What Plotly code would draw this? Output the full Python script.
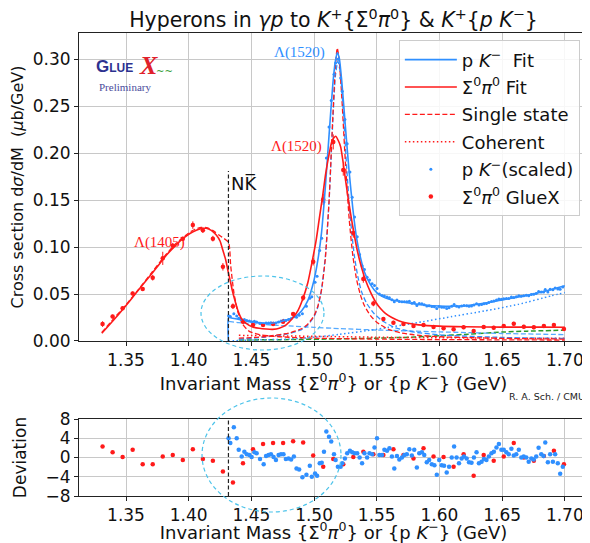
import plotly.graph_objects as go

# ---------------- Sigma0 pi0 GlueX data (8 MeV bins) ----------------
sig_x = [1.3313, 1.3393, 1.3473, 1.3553, 1.3633, 1.3713, 1.3793, 1.3873, 1.3953, 1.4033,
         1.4113, 1.4193, 1.4273, 1.4353, 1.4433, 1.4513, 1.4593, 1.4673, 1.4753, 1.4833,
         1.4913, 1.4993, 1.5073, 1.5153, 1.5233, 1.5313, 1.5393, 1.5473, 1.5553, 1.5633,
         1.5713, 1.5793, 1.5873, 1.5953, 1.6033, 1.6113, 1.6193, 1.6273, 1.6353, 1.6433,
         1.6513, 1.6593, 1.6673, 1.6753, 1.6833, 1.6913, 1.6993]
sig_y = [0.018, 0.026, 0.0348, 0.0507, 0.0553, 0.0674, 0.088, 0.1014, 0.109, 0.1234,
         0.118, 0.109, 0.079, 0.037, 0.0206, 0.017, 0.017, 0.018, 0.0206, 0.0287,
         0.046, 0.0844, 0.1507, 0.212, 0.182, 0.115, 0.066, 0.040, 0.0234, 0.0195,
         0.018, 0.016, 0.017, 0.015, 0.0135, 0.0125, 0.0146, 0.0106, 0.0149, 0.0141,
         0.016, 0.0184, 0.0152, 0.0145, 0.016, 0.017, 0.0128]
sig_err = [0.003, 0.002, 0.002, 0.002, 0.002, 0.003, 0.007, 0.003, 0.002, 0.004,
           0.003, 0.003, 0.004, 0.003, 0.002, 0.002, 0.002, 0.002, 0.002, 0.002,
           0.003, 0.004, 0.006, 0.008, 0.006, 0.005, 0.004, 0.003, 0.002, 0.002,
           0.002, 0.002, 0.002, 0.002, 0.002, 0.002, 0.002, 0.002, 0.002, 0.002,
           0.002, 0.002, 0.002, 0.002, 0.002, 0.002, 0.002]
sig_dev = [2.3, 1.1, 0.1, 1.6, -1.4, -1.4, 0.2, 0.5, -0.5, 1.7,
           -0.3, -0.7, -2.9, -5.2, -1.2, 1.7, 2.8, 3.0, 3.0, 3.4,
           3.1, 0.4, -1.9, -0.3, -1.4, 0.1, 1.2, 0.7, 0.5, 1.7,
           0.5, -0.2, 1.9, 0.2, 0.1, -1.9, 0.7, -3.8, 0.5, -0.7,
           0.2, 3.0, 0.0, -0.7, 0.3, 1.4, -1.4]

# ---------------- p K- data (scaled) ----------------
pk_x = [1.4318, 1.4332, 1.4360, 1.4383, 1.4399, 1.4423, 1.4444, 1.4463, 1.4484, 1.4502,
        1.4524, 1.4542, 1.4569, 1.4598, 1.4617, 1.4637, 1.4656, 1.4677, 1.4696, 1.4717,
        1.4736, 1.4756, 1.4775, 1.4796, 1.4817, 1.4839, 1.4860, 1.4881, 1.4907, 1.4939,
        1.4966, 1.4982, 1.5008, 1.5024, 1.5045, 1.5061, 1.5079, 1.5098, 1.5119, 1.5137,
        1.5159, 1.5172, 1.5190, 1.5212, 1.5225, 1.5246, 1.5264, 1.5286, 1.5304, 1.5323,
        1.5344, 1.5363, 1.5383, 1.5402, 1.5423, 1.5442, 1.5463, 1.5482, 1.5502, 1.5521,
        1.5542, 1.5561, 1.5582, 1.5601, 1.5621, 1.5640, 1.5661, 1.5680, 1.5701, 1.5720,
        1.5740, 1.5760, 1.5780, 1.5799, 1.5820, 1.5839, 1.5860, 1.5879, 1.5899, 1.5918,
        1.5939, 1.5960, 1.5979, 1.5998, 1.6018, 1.6037, 1.6058, 1.6077, 1.6098, 1.6117,
        1.6137, 1.6156, 1.6177, 1.6196, 1.6217, 1.6236, 1.6256, 1.6275, 1.6296, 1.6315,
        1.6336, 1.6355, 1.6375, 1.6394, 1.6415, 1.6434, 1.6455, 1.6474, 1.6494, 1.6513,
        1.6534, 1.6553, 1.6574, 1.6593, 1.6613, 1.6633, 1.6653, 1.6672, 1.6693, 1.6712,
        1.6733, 1.6752, 1.6772, 1.6791, 1.6812, 1.6831, 1.6844, 1.6865, 1.6883, 1.6905,
        1.6923, 1.6944, 1.6963, 1.6984]
pk_y = [0.0270, 0.0262, 0.0290, 0.0265, 0.0243, 0.0226, 0.0228, 0.0219, 0.0212, 0.0206,
        0.0209, 0.0203, 0.0190, 0.0180, 0.0191, 0.0192, 0.0194, 0.0191, 0.0191, 0.0203,
        0.0212, 0.0221, 0.0218, 0.0228, 0.0237, 0.0258, 0.0254, 0.0273, 0.0290, 0.0370,
        0.0455, 0.0470, 0.0625, 0.0690, 0.0965, 0.1095, 0.1480, 0.1950, 0.2280, 0.2560,
        0.2840, 0.2960, 0.3000, 0.2800, 0.2660, 0.2360, 0.2100, 0.1800, 0.1530, 0.1320,
        0.1110, 0.0920, 0.0800, 0.0760, 0.0680, 0.0650, 0.0610, 0.0590, 0.0560, 0.0500,
        0.0485, 0.0480, 0.0468, 0.0460, 0.0440, 0.0418, 0.0436, 0.0420, 0.0418, 0.0418,
        0.0418, 0.0422, 0.0402, 0.0410, 0.0378, 0.0398, 0.0396, 0.0386, 0.0372, 0.0374,
        0.0367, 0.0364, 0.0345, 0.0368, 0.0360, 0.0358, 0.0346, 0.0355, 0.0370, 0.0389,
        0.0371, 0.0362, 0.0372, 0.0377, 0.0376, 0.0370, 0.0372, 0.0384, 0.0396, 0.0383,
        0.0389, 0.0397, 0.0398, 0.0410, 0.0420, 0.0427, 0.0437, 0.0448, 0.0445, 0.0450,
        0.0452, 0.0453, 0.0468, 0.0463, 0.0470, 0.0481, 0.0476, 0.0482, 0.0486, 0.0483,
        0.0494, 0.0497, 0.0507, 0.0528, 0.0521, 0.0522, 0.0548, 0.0521, 0.0550, 0.0545,
        0.0563, 0.0553, 0.0550, 0.0575]
pk_err = 0.0009
pk_dev = [4.0, 3.0, 6.3, 4.0, 1.6, 0.2, 1.2, 0.7, 0.5, 0.1,
          1.1, 0.9, -0.3, -1.4, 0.3, 0.5, 0.7, 0.1, -0.5, 0.5,
          0.7, 0.7, -0.3, -0.2, -0.4, 0.2, -2.3, -2.5, -4.1, -3.6,
          -1.7, -4.0, -3.3, -3.8, -1.2, -1.1, 1.2, 5.4, 4.3, 3.3,
          0.7, -0.5, -1.9, -1.9, -1.2, -0.2, 0.9, 1.4, 1.1, 0.9,
          0.9, 0.0, -1.2, 0.9, 0.0, 0.9, 0.7, 2.1, 4.0, 0.5,
          0.5, 1.6, 1.4, 1.9, 0.2, -2.3, 0.3, -0.4, 0.0, 0.5,
          0.7, 1.7, 0.4, 1.6, -2.1, 0.9, 1.1, 0.5, -1.0, -0.5,
          -1.4, -1.6, -3.6, -0.5, -1.6, -1.7, -3.1, -1.9, 0.0, 2.3,
          0.0, -1.2, -0.2, 0.2, -0.2, -1.0, -1.1, 0.0, 1.1, -1.2,
          -0.9, -0.3, -0.5, 0.2, 0.9, 1.2, 2.1, 2.8, 1.6, 1.6,
          1.1, 0.7, 1.8, 0.4, 0.7, 1.6, 0.0, 0.2, 0.0, -0.9,
          -0.2, -0.4, 0.2, 2.0, 0.7, 0.3, 3.1, -1.0, 0.7, -0.9,
          0.7, -1.2, -3.4, -1.9]

# ---------------- fit curves ----------------
sig_fit_x = [1.3307, 1.3400, 1.3492, 1.3580, 1.3664, 1.3740, 1.3823, 1.3890, 1.3955, 1.4010,
             1.4061, 1.4100, 1.4140, 1.4180, 1.4220, 1.4250, 1.4272, 1.4295, 1.4312, 1.4330,
             1.4347, 1.4370, 1.4391, 1.4420, 1.4458, 1.4510, 1.4563, 1.4620, 1.4669, 1.4722,
             1.4780, 1.4828, 1.4870, 1.4907, 1.4950, 1.4987, 1.5015, 1.5040, 1.5068, 1.5093,
             1.5120, 1.5145, 1.5172, 1.5195, 1.5212, 1.5232, 1.5251, 1.5271, 1.5291, 1.5318,
             1.5344, 1.5375, 1.5410, 1.5450, 1.5490, 1.5530, 1.5569, 1.5620, 1.5675, 1.5750,
             1.5833, 1.6000, 1.6200, 1.6500, 1.6800, 1.7000]
sig_fit_y = [0.0082, 0.0220, 0.0365, 0.0510, 0.0649, 0.0775, 0.0915, 0.1010, 0.1092, 0.1145,
             0.1180, 0.1197, 0.1200, 0.1178, 0.1128, 0.1065, 0.0968, 0.0865, 0.0755, 0.0650,
             0.0543, 0.0425, 0.0330, 0.0240, 0.0188, 0.0150, 0.0135, 0.0127, 0.0124, 0.0135,
             0.0175, 0.0241, 0.0320, 0.0436, 0.0620, 0.0862, 0.1060, 0.1287, 0.1540, 0.1784,
             0.1990, 0.2138, 0.2180, 0.2130, 0.2067, 0.1900, 0.1713, 0.1530, 0.1358, 0.1150,
             0.0968, 0.0800, 0.0649, 0.0520, 0.0418, 0.0345, 0.0294, 0.0250, 0.0216, 0.0188,
             0.0172, 0.0158, 0.0152, 0.0148, 0.0148, 0.0146]

pk_fit_x = [1.4317, 1.4319, 1.435, 1.440, 1.445, 1.450, 1.455, 1.460, 1.465, 1.470,
            1.475, 1.480, 1.485, 1.490, 1.495, 1.500, 1.503, 1.506, 1.509, 1.512,
            1.515, 1.517, 1.5185, 1.520, 1.522, 1.525, 1.528, 1.531, 1.534, 1.537,
            1.540, 1.545, 1.550, 1.555, 1.560, 1.570, 1.580, 1.590, 1.600, 1.610,
            1.620, 1.630, 1.640, 1.650, 1.660, 1.670, 1.680, 1.690, 1.700]
pk_fit_y = [0.0, 0.0248, 0.0243, 0.0230, 0.0217, 0.0205, 0.0196, 0.0190, 0.0188, 0.0196,
            0.0212, 0.0232, 0.0262, 0.0320, 0.0430, 0.0650, 0.0860, 0.1160, 0.1640, 0.2200,
            0.2740, 0.2980, 0.3070, 0.3020, 0.2780, 0.2280, 0.1800, 0.1400, 0.1090, 0.0890,
            0.0740, 0.0600, 0.0515, 0.0470, 0.0445, 0.0418, 0.0395, 0.0380, 0.0372, 0.0370,
            0.0376, 0.0392, 0.0412, 0.0437, 0.0462, 0.0488, 0.0516, 0.0550, 0.0588]

# single-state components
l1405_x = [1.3307, 1.340, 1.350, 1.360, 1.370, 1.380, 1.390, 1.400, 1.405, 1.410,
           1.415, 1.420, 1.425, 1.4317, 1.4335, 1.436, 1.439, 1.443, 1.448, 1.455,
           1.465, 1.480, 1.500, 1.550, 1.600, 1.700]
l1405_y = [0.0090, 0.0235, 0.0385, 0.0550, 0.0720, 0.0890, 0.1040, 0.1150, 0.1190, 0.1210,
           0.1205, 0.1170, 0.1120, 0.1050, 0.0800, 0.0520, 0.0320, 0.0180, 0.0105, 0.0072,
           0.0052, 0.0040, 0.0030, 0.0020, 0.0015, 0.0010]

l1520s_x = [1.440, 1.460, 1.480, 1.490, 1.495, 1.500, 1.503, 1.506, 1.509, 1.512,
            1.515, 1.517, 1.5185, 1.520, 1.522, 1.525, 1.528, 1.531, 1.534, 1.537,
            1.540, 1.545, 1.550, 1.560, 1.570, 1.580, 1.600, 1.650, 1.700]
l1520s_y = [0.0030, 0.0045, 0.0085, 0.0130, 0.0180, 0.0270, 0.0370, 0.0550, 0.0880, 0.1500,
            0.2400, 0.2920, 0.3120, 0.3000, 0.2620, 0.1900, 0.1300, 0.0900, 0.0650, 0.0490,
            0.0380, 0.0270, 0.0200, 0.0120, 0.0085, 0.0065, 0.0045, 0.0028, 0.0020]

l1520p_x = [1.440, 1.460, 1.480, 1.490, 1.495, 1.500, 1.503, 1.506, 1.509, 1.512,
            1.515, 1.517, 1.519, 1.521, 1.523, 1.526, 1.529, 1.532, 1.535, 1.538,
            1.542, 1.548, 1.555, 1.565, 1.580, 1.600, 1.650, 1.700]
l1520p_y = [0.0020, 0.0040, 0.0080, 0.0120, 0.0170, 0.0260, 0.0360, 0.0550, 0.0900, 0.1500,
            0.2350, 0.2820, 0.2980, 0.2850, 0.2500, 0.1850, 0.1300, 0.0920, 0.0680, 0.0520,
            0.0400, 0.0290, 0.0210, 0.0140, 0.0095, 0.0065, 0.0038, 0.0027]

pkbg_x = [1.4320, 1.440, 1.460, 1.480, 1.500, 1.520, 1.550, 1.600, 1.650, 1.700]
pkbg_y = [0.0210, 0.0195, 0.0175, 0.0160, 0.0145, 0.0132, 0.0117, 0.0097, 0.0080, 0.0068]

pkcoh_x = [1.4317, 1.450, 1.480, 1.500, 1.520, 1.550, 1.587, 1.610, 1.636, 1.663, 1.689, 1.700]
pkcoh_y = [0.0000, 0.0010, 0.0020, 0.0040, 0.0070, 0.0125, 0.0206, 0.0260, 0.0320, 0.0390, 0.0480, 0.0515]

green_x = [1.440, 1.480, 1.520, 1.550, 1.580, 1.600, 1.620, 1.650, 1.670, 1.700]
green_y = [0.0010, 0.0015, 0.0022, 0.0030, 0.0042, 0.0055, 0.0070, 0.0095, 0.0105, 0.0115]

sigcoh_x = [1.440, 1.500, 1.550, 1.600, 1.650, 1.700]
sigcoh_y = [0.0060, 0.0050, 0.0040, 0.0035, 0.0030, 0.0030]

NKBAR = 1.4317  # m_N + m_K threshold

BLUE = "#2f8fff"
RED = "#ff1a1a"
GREEN = "#2a9a2a"
XR = [1.3125, 1.7185]
DASH = "5px,2.5px"
DOT = "1.5px,2.5px"

fig = go.Figure()


def line(x, y, color, dash="solid", width=1.5, name=None, rank=None, show=False):
    fig.add_trace(go.Scatter(
        x=x, y=y, mode="lines", xaxis="x2", yaxis="y2",
        line=dict(color=color, width=width, dash=dash, shape="spline", smoothing=0.6),
        name=name, showlegend=show, legendrank=rank, legendgroup=name or "",
        hoverinfo="skip"))


# background components
line(green_x, green_y, GREEN, DASH, 1.5)
line(pkbg_x, pkbg_y, "#55aaff", DASH, 1.3)
line(pkcoh_x, pkcoh_y, BLUE, DOT, 1.5)
line(sigcoh_x, sigcoh_y, RED, DOT, 1.5, "Coherent", 4, True)
line(l1520p_x, l1520p_y, BLUE, DASH, 1.3)
line(l1520s_x, l1520s_y, RED, DASH, 1.3)
line(l1405_x, l1405_y, RED, DASH, 1.3, "Single state", 3, True)

# data
fig.add_trace(go.Scatter(
    x=pk_x, y=pk_y, mode="markers", xaxis="x2", yaxis="y2",
    marker=dict(color=BLUE, size=3),
    error_y=dict(type="constant", value=pk_err, color=BLUE, thickness=0.8, width=0),
    name="p <i>K</i><sup>−</sup>(scaled)", legendrank=5, legendgroup="pkd"))
fig.add_trace(go.Scatter(
    x=sig_x, y=sig_y, mode="markers", xaxis="x2", yaxis="y2",
    marker=dict(color=RED, size=4.5),
    error_y=dict(type="data", array=sig_err, color=RED, thickness=1, width=0),
    name="Σ<sup>0</sup><i>π</i><sup>0</sup> GlueX", legendrank=6, legendgroup="sgd"))

# fits
line(pk_fit_x, pk_fit_y, BLUE, "solid", 1.6, "p <i>K</i><sup>−</sup>  Fit", 1, True)
line(sig_fit_x, sig_fit_y, RED, "solid", 1.6, "Σ<sup>0</sup><i>π</i><sup>0</sup> Fit", 2, True)

# deviation panel
fig.add_trace(go.Scatter(x=sig_x, y=sig_dev, mode="markers", xaxis="x", yaxis="y",
                         marker=dict(color=RED, size=4.5), showlegend=False))
fig.add_trace(go.Scatter(x=pk_x, y=pk_dev, mode="markers", xaxis="x", yaxis="y",
                         marker=dict(color=BLUE, size=4.5), showlegend=False))

FONT = "DejaVu Sans"
xtitle = "Invariant Mass {Σ<sup>0</sup><i>π</i><sup>0</sup>} or {p <i>K</i><sup>−</sup>} (GeV)"
axis_common = dict(showline=True, mirror=True, linecolor="#222", linewidth=1,
                   showgrid=True, gridcolor="#c8c8c8", gridwidth=1, zeroline=False,
                   ticks="outside", ticklen=4, tickcolor="#222", automargin=False,
                   tickfont=dict(size=17, family=FONT, color="#111"))

# the page body adds an 8px offset, so the figure is laid out 8px up/left
fig.update_layout(
    width=582, height=535,
    margin=dict(l=71, r=2, t=25, b=47),
    paper_bgcolor="white", plot_bgcolor="white",
    font=dict(family=FONT, color="#111"),
    title=dict(text="Hyperons in <i>γp</i> to <i>K</i><sup>+</sup>{Σ<sup>0</sup><i>π</i><sup>0</sup>} & "
                    "<i>K</i><sup>+</sup>{<i>p K</i><sup>−</sup>}",
               x=0.5, xref="paper", y=0.977, yref="container", yanchor="middle",
               font=dict(size=20.5, family=FONT)),
    xaxis2=dict(axis_common, domain=[0, 1], range=XR, anchor="y2", dtick=0.05, tick0=1.35,
                tickformat=".2f", title=dict(text=xtitle, font=dict(size=18), standoff=0)),
    yaxis2=dict(axis_common, domain=[0.3348, 1], range=[0, 0.328], anchor="x2", dtick=0.05,
                tickformat=".2f",
                title=dict(text="Cross section d<i>σ</i>/dM  (<i>μ</i>b/GeV)",
                           font=dict(size=16), standoff=6)),
    xaxis=dict(axis_common, domain=[0, 1], range=XR, anchor="y", dtick=0.05, tick0=1.35,
               tickformat=".2f", title=dict(text=xtitle, font=dict(size=18), standoff=1)),
    yaxis=dict(axis_common, domain=[0, 0.1663], range=[-8, 8], anchor="x",
               tickvals=[-8, -4, 0, 4, 8],
               title=dict(text="Deviation", font=dict(size=17), standoff=14)),
    legend=dict(x=0.984, xanchor="right", y=0.984, yanchor="top",
                bgcolor="rgba(255,255,255,0.85)", bordercolor="#cccccc", borderwidth=1,
                font=dict(size=18, family=FONT), tracegroupgap=1, itemwidth=52),
)

# threshold markers
fig.add_shape(type="line", xref="x2", yref="y2", x0=NKBAR, x1=NKBAR, y0=0, y1=0.181,
              line=dict(color="#222", width=1.2, dash="4px,2.5px"))
fig.add_shape(type="line", xref="x", yref="y", x0=NKBAR, x1=NKBAR, y0=-8, y1=8,
              line=dict(color="#222", width=1.2, dash="4px,2.5px"))

# highlight ellipses
fig.add_shape(type="circle", xref="paper", yref="paper", x0=0.2397, x1=0.4813, y0=0.3153, y1=0.4752,
              line=dict(color="#4cc3ea", width=1.2, dash="4px,3px"))
fig.add_shape(type="circle", xref="paper", yref="paper", x0=0.2417, x1=0.5147, y0=-0.0346, y1=0.2117,
              line=dict(color="#4cc3ea", width=1.2, dash="4px,3px"))

SERIF = "Liberation Serif"
fig.add_annotation(x=1.377, y=0.105, xref="x2", yref="y2", text="Λ(1405)", showarrow=False,
                   font=dict(family=SERIF, size=15, color=RED))
fig.add_annotation(x=1.488, y=0.307, xref="x2", yref="y2", text="Λ(1520)", showarrow=False,
                   font=dict(family=SERIF, size=15, color=BLUE))
fig.add_annotation(x=1.486, y=0.2074, xref="x2", yref="y2", text="Λ(1520)", showarrow=False,
                   font=dict(family=SERIF, size=15, color=RED))
fig.add_annotation(x=NKBAR + 0.0008, y=0.168, xref="x2", yref="y2", xanchor="left",
                   text="NK\u0305", showarrow=False, font=dict(family=FONT, size=18, color="#111"))

# GlueX logo (text version)
fig.add_annotation(x=0.030, y=0.9266, xref="paper", yref="paper", showarrow=False,
                   xanchor="left", yanchor="middle",
                   text="<b>G<span style='font-size:12px'>LUE</span></b>",
                   font=dict(family="Liberation Sans", size=17, color="#2d318f"))
fig.add_annotation(x=0.1356, y=0.930, xref="paper", yref="paper", showarrow=False,
                   xanchor="center", yanchor="middle",
                   text="<b><i>X</i></b>", font=dict(family=SERIF, size=26, color="#e0202a"))
fig.add_annotation(x=0.168, y=0.917, xref="paper", yref="paper", showarrow=False,
                   xanchor="center", yanchor="middle",
                   text="~~", font=dict(family=FONT, size=10, color="#3aa03a"))
fig.add_annotation(x=0.0904, y=0.8834, xref="paper", yref="paper", showarrow=False,
                   xanchor="center", yanchor="middle",
                   text="Preliminary", font=dict(family=SERIF, size=11, color="#4b4b9b"))

fig.add_annotation(x=0.919, y=0.214, xref="paper", yref="paper", showarrow=False,
                   xanchor="center", yanchor="middle",
                   text="R. A. Sch. / CMU", font=dict(family=FONT, size=9.5, color="#222"))

fig.write_html("out.html")
